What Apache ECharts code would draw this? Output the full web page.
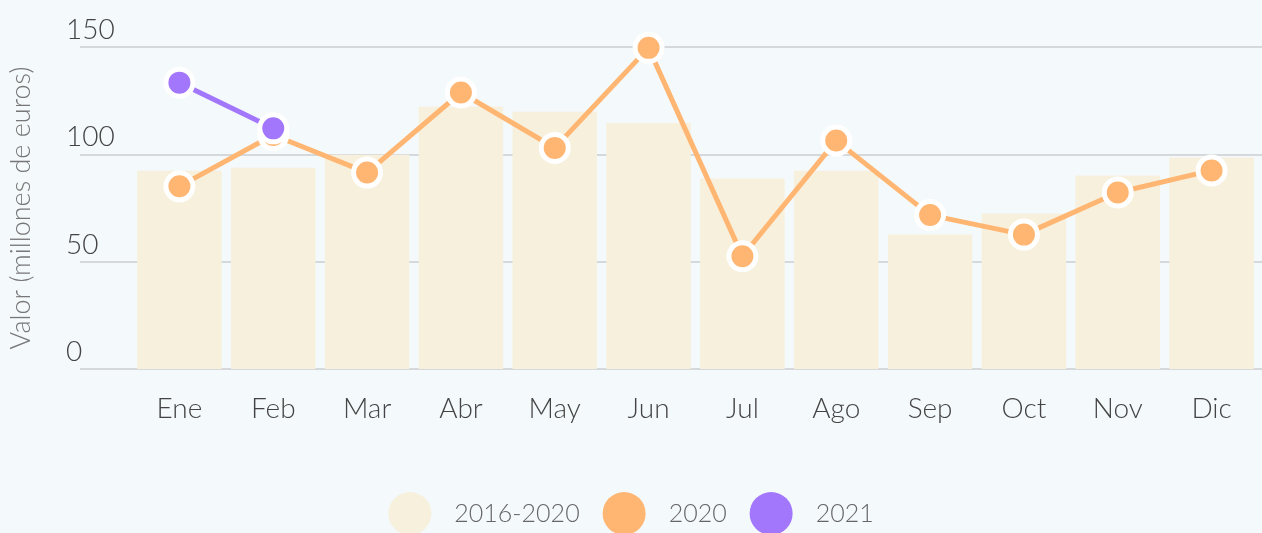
<!DOCTYPE html>
<html>
<head>
<meta charset="utf-8">
<script src="https://cdn.jsdelivr.net/npm/echarts@6/dist/echarts.min.js"></script>
<style>
  html, body { margin: 0; padding: 0; background: #f4f9fc; }
  #chart { width: 1262px; height: 533px; }
</style>
</head>
<body>
<div id="chart"></div>
<script>
// datos
const months = ['Ene', 'Feb', 'Mar', 'Abr', 'May', 'Jun', 'Jul', 'Ago', 'Sep', 'Oct', 'Nov', 'Dic'];
const avg2016_2020 = [92.3, 93.8, 99.8, 122.2, 119.8, 114.6, 88.7, 92.4, 62.6, 72.4, 90.1, 98.5];
const values2020 = [85.1, 109, 91.5, 128.8, 103, 149.6, 52.5, 106.4, 71.7, 62.6, 82.2, 92.5];
const values2021 = [133.4, 112.1, null, null, null, null, null, null, null, null, null, null];
const yTicks = [0, 50, 100, 150];

const FONT = 'Lato';
const chart = echarts.init(document.getElementById('chart'));

// estilo de los puntos de las líneas
function pointSeries(name, data, color) {
  return {
    name: name,
    type: 'line',
    xAxisIndex: 1,
    yAxisIndex: 1,
    data: data,
    symbol: 'circle',
    symbolSize: 27,
    lineStyle: { color: color, width: 5 },
    itemStyle: { color: color, borderColor: '#fff', borderWidth: 5 },
    emphasis: { disabled: true },
    z: 3
  };
}

chart.setOption({
  backgroundColor: '#f4f9fc',
  animation: false,
  textStyle: { fontFamily: FONT, fontWeight: 300 },
  legend: {
    top: 487,
    left: 'center',
    icon: 'circle',
    itemWidth: 43,
    itemHeight: 43,
    itemGap: 23,
    itemStyle: { borderWidth: 0 },
    textStyle: { fontSize: 25, color: '#666', fontFamily: FONT, fontWeight: 300, padding: [0, 0, 0, 18] },
    data: ['2016-2020', '2020', '2021']
  },
  grid: [
    { left: 67, right: 0, top: 47, bottom: 164 },
    { left: 132.5, right: 3.5, top: 47, bottom: 164 }
  ],
  xAxis: [
    { type: 'value', gridIndex: 0, show: false, min: 0, max: 1 },
    {
      type: 'category',
      gridIndex: 1,
      data: months,
      axisLine: { show: false },
      axisTick: { show: false },
      axisLabel: { color: '#444', fontSize: 28, fontFamily: FONT, fontWeight: 300, margin: 26 }
    }
  ],
  yAxis: [
    {
      type: 'value',
      gridIndex: 0,
      min: 0,
      max: 150,
      interval: 50,
      name: 'Valor (millones de euros)',
      nameLocation: 'middle',
      nameRotate: 90,
      nameGap: 45,
      nameTextStyle: { color: '#777', fontSize: 27, fontFamily: FONT, fontWeight: 300 },
      axisLine: { show: false },
      axisTick: { show: false },
      splitLine: { lineStyle: { color: '#d5d9dc', width: 2 } },
      axisLabel: {
        inside: true,
        margin: -14,
        align: 'left',
        verticalAlign: 'bottom',
        padding: [0, 0, 3, 0],
        color: '#444',
        fontSize: 28,
        fontFamily: FONT,
        fontWeight: 300,
        formatter: v => yTicks.includes(v) ? String(v) : ''
      }
    },
    { type: 'value', gridIndex: 1, min: 0, max: 150, show: false }
  ],
  series: [
    {
      name: '2016-2020',
      type: 'bar',
      xAxisIndex: 1,
      yAxisIndex: 1,
      data: avg2016_2020,
      barCategoryGap: '10%',
      itemStyle: { color: '#f7f0dc' },
      emphasis: { disabled: true },
      z: 2
    },
    pointSeries('2020', values2020, '#ffb672'),
    pointSeries('2021', values2021, '#a277fc')
  ]
});

window.addEventListener('resize', () => chart.resize());
</script>
</body>
</html>
